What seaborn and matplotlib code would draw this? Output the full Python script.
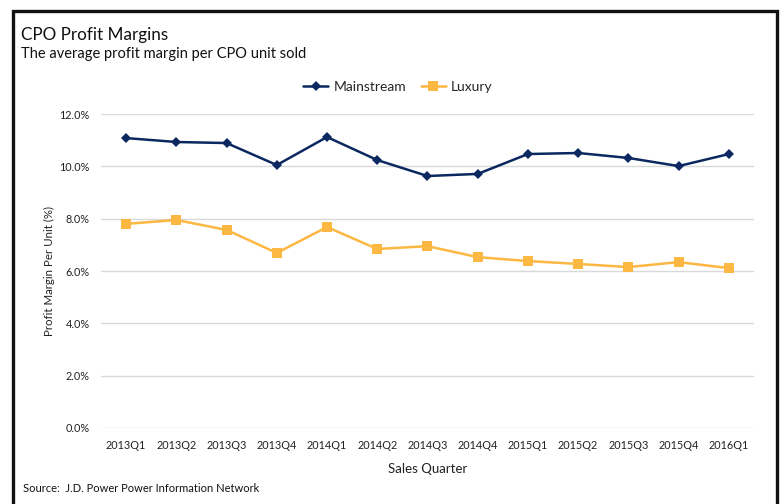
import matplotlib
matplotlib.use("Agg")
import matplotlib.pyplot as plt
from matplotlib.patches import Rectangle
from matplotlib.ticker import FuncFormatter
import pandas as pd
import seaborn as sns

quarters = ["2013Q1", "2013Q2", "2013Q3", "2013Q4", "2014Q1", "2014Q2", "2014Q3",
            "2014Q4", "2015Q1", "2015Q2", "2015Q3", "2015Q4", "2016Q1"]
mainstream = [11.08, 10.93, 10.89, 10.05, 11.12, 10.24, 9.63, 9.71, 10.47, 10.51, 10.32, 10.01, 10.47]
luxury = [7.80, 7.95, 7.57, 6.69, 7.68, 6.84, 6.95, 6.53, 6.38, 6.27, 6.15, 6.34, 6.11]
series_names = ["Mainstream", "Luxury"]
y_ticks = [0, 2, 4, 6, 8, 10, 12]

sns.set_style("white")
plt.rcParams["font.family"] = ["Lato", "DejaVu Sans"]

df = pd.DataFrame({"Quarter": quarters, "Mainstream": mainstream, "Luxury": luxury})
long = df.melt(id_vars="Quarter", var_name="Segment", value_name="Margin")
long["pos"] = long["Quarter"].map({q: i for i, q in enumerate(quarters)})

fig = plt.figure(figsize=(7.81, 5.04), dpi=100)
ax = fig.add_axes([0.1293, 0.1508, 0.8361, 0.6230])

palette = {"Mainstream": "#0C2860", "Luxury": "#FDB743"}
markers = {"Mainstream": "D", "Luxury": "s"}
sizes = {"Mainstream": 6.5, "Luxury": 9}

for name in series_names:
    sub = long[long["Segment"] == name]
    sns.lineplot(data=sub, x="pos", y="Margin", ax=ax, color=palette[name],
                 marker=markers[name], markersize=sizes[name], linewidth=1.8,
                 markeredgewidth=0, label=name, zorder=3)

ax.set_xlim(-0.5, len(quarters) - 0.5)
ax.set_ylim(0, 12)
ax.set_yticks(y_ticks)
ax.yaxis.set_major_formatter(FuncFormatter(lambda v, _: f"{v:.1f}%"))
ax.set_xticks(range(len(quarters)))
ax.set_xticklabels(quarters)
ax.tick_params(axis="both", length=0, labelsize=7.8, colors="#222222")
ax.tick_params(axis="x", pad=9)
ax.tick_params(axis="y", pad=8)
ax.grid(axis="y", color="#D9D9D9", linewidth=1.0, zorder=0)
ax.grid(axis="x", visible=False)
for s in ax.spines.values():
    s.set_visible(False)

ax.set_xlabel("Sales Quarter", fontsize=9.5, color="#222222", labelpad=8)
ax.set_ylabel("Profit Margin Per Unit (%)", fontsize=8.3, color="#222222", labelpad=3)

handles, labels = ax.get_legend_handles_labels()
for h in handles:
    h.set_markersize(h.get_markersize() * 0.75)
ax.legend(handles, labels, loc="center", bbox_to_anchor=(0.455, 1.087), ncol=2,
          frameon=False, fontsize=10, handlelength=1.8, columnspacing=1.0,
          handletextpad=0.4)

fig.text(0.027, 0.930, "CPO Profit Margins", fontsize=12.3, color="#111111", va="center")
fig.text(0.027, 0.893, "The average profit margin per CPO unit sold", fontsize=10.5,
         color="#111111", va="center")
fig.text(0.030, 0.030, "Source:  J.D. Power Power Information Network", fontsize=8,
         color="#111111", va="center")

fig.patches.append(Rectangle((12.5 / 781, -0.05), 764 / 781, 1 - 10.5 / 504 + 0.05,
                             transform=fig.transFigure, fill=False,
                             edgecolor="#111111", linewidth=2.4))

fig.savefig("out.png", dpi=100)
